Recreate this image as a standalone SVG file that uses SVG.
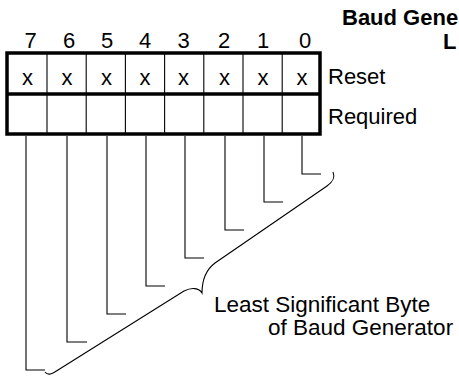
<svg xmlns="http://www.w3.org/2000/svg" width="459" height="379" viewBox="0 0 459 379">
<style>
  .t { font-family: "Liberation Sans", Arial, sans-serif; fill: #000; }
  .b { font-weight: bold; }
  .thick { fill: none; stroke: #000; stroke-width: 3.5; }
  .thin { fill: none; stroke: #000; stroke-width: 1.1; }
</style>
<rect width="459" height="379" fill="#fff"/>
<g id="title">
  <text class="t b" x="342" y="25" font-size="22">Baud Gene</text>
  <text class="t b" x="443" y="49" font-size="22">L</text>
</g>
<g id="bit-numbers" font-size="22" text-anchor="middle">
  <text class="t" x="30.5" y="48">7</text>
  <text class="t" x="69" y="48">6</text>
  <text class="t" x="107" y="48">5</text>
  <text class="t" x="145" y="48">4</text>
  <text class="t" x="183.5" y="48">3</text>
  <text class="t" x="224" y="48">2</text>
  <text class="t" x="263" y="48">1</text>
  <text class="t" x="305" y="48">0</text>
</g>
<g id="register">
  <line class="thin" x1="47" y1="53" x2="47" y2="134"/>
  <line class="thin" x1="86.2" y1="53" x2="86.2" y2="134"/>
  <line class="thin" x1="125.4" y1="53" x2="125.4" y2="134"/>
  <line class="thin" x1="164.6" y1="53" x2="164.6" y2="134"/>
  <line class="thin" x1="203.8" y1="53" x2="203.8" y2="134"/>
  <line class="thin" x1="243" y1="53" x2="243" y2="134"/>
  <line class="thin" x1="282.2" y1="53" x2="282.2" y2="134"/>
  <rect class="thick" x="7" y="53" width="313" height="81"/>
  <line class="thick" x1="7" y1="94" x2="320" y2="94"/>
</g>
<g id="reset-row" font-size="22" text-anchor="middle">
  <text class="t" x="27.5" y="85">x</text>
  <text class="t" x="67" y="85">x</text>
  <text class="t" x="106.5" y="85">x</text>
  <text class="t" x="145" y="85">x</text>
  <text class="t" x="183.5" y="85">x</text>
  <text class="t" x="224.5" y="85">x</text>
  <text class="t" x="263" y="85">x</text>
  <text class="t" x="302" y="85">x</text>
</g>
<g id="row-labels" font-size="22">
  <text class="t" x="328" y="84">Reset</text>
  <text class="t" x="328" y="124">Required</text>
</g>
<g id="connectors">
  <polyline class="thin" points="302,136 302,174 321,174"/>
  <polyline class="thin" points="264,136 264,202 283,202"/>
  <polyline class="thin" points="225,136 225,230 244,230"/>
  <polyline class="thin" points="185,136 185,258 204,258"/>
  <polyline class="thin" points="146,136 146,286 165,286"/>
  <polyline class="thin" points="107,136 107,314 126,314"/>
  <polyline class="thin" points="67,136 67,342 87,342"/>
  <polyline class="thin" points="26,136 26,370 45,370"/>
  <path class="thin" d="M333,172 C335,177 334,181 327,186 L215,263 C207,269 202,278 202,293 C199,288 192,287 184,291 L58,370 C52,374 48,376 45,372"/>
</g>
<g id="brace-label" font-size="22.5">
  <text class="t" x="214" y="312">Least Significant Byte</text>
  <text class="t" x="268" y="335">of Baud Generator</text>
</g>
</svg>
